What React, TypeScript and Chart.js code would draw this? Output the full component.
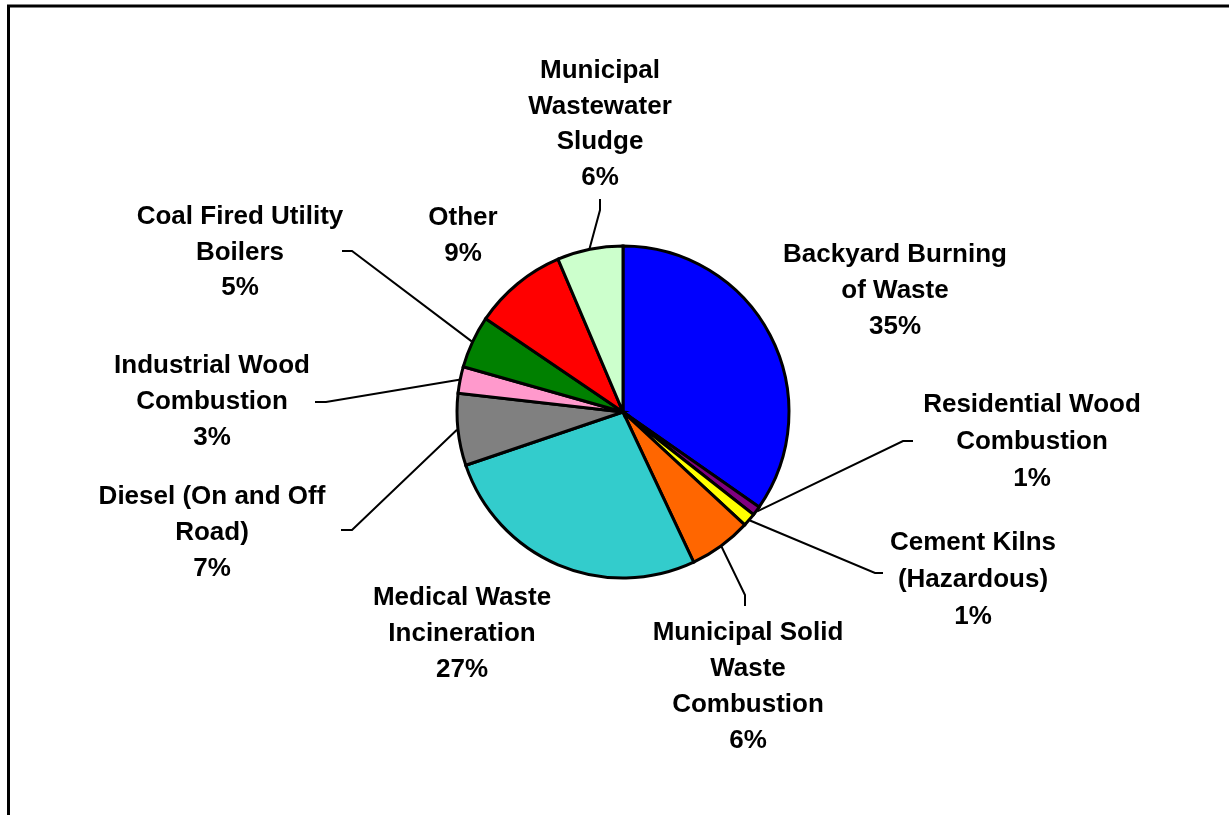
import React, { useEffect, useRef } from "react";
import { Chart, registerables } from "chart.js";

Chart.register(...registerables);

// ---- data ----
const categories = [
  "Backyard Burning of Waste",
  "Residential Wood Combustion",
  "Cement Kilns (Hazardous)",
  "Municipal Solid Waste Combustion",
  "Medical Waste Incineration",
  "Diesel (On and Off Road)",
  "Industrial Wood Combustion",
  "Coal Fired Utility Boilers",
  "Other",
  "Municipal Wastewater Sludge",
];
const shares = [34.7, 0.9, 1.3, 6.1, 26.8, 7.0, 2.6, 5.1, 9.1, 6.4];
const percentLabels = ["35%", "1%", "1%", "6%", "27%", "7%", "3%", "5%", "9%", "6%"];
const nameLines = [
  ["Backyard Burning", "of Waste"],
  ["Residential Wood", "Combustion"],
  ["Cement Kilns", "(Hazardous)"],
  ["Municipal Solid", "Waste", "Combustion"],
  ["Medical Waste", "Incineration"],
  ["Diesel (On and Off", "Road)"],
  ["Industrial Wood", "Combustion"],
  ["Coal Fired Utility", "Boilers"],
  ["Other"],
  ["Municipal", "Wastewater", "Sludge"],
];
const sliceColors = [
  "#0000FF",
  "#800080",
  "#FFFF00",
  "#FF6600",
  "#33CCCC",
  "#808080",
  "#FF99CC",
  "#008000",
  "#FF0000",
  "#CCFFCC",
];

// ---- label layout (text anchor + leader elbow/end) ----
type Pt = [number, number];
const labelLayout: { x: number; y: number; step: number; leader: Pt[] | null }[] = [
  { x: 895, y: 255, step: 36, leader: null },
  { x: 1032, y: 405, step: 37, leader: [[903, 441], [913, 441]] },
  { x: 973, y: 543, step: 37, leader: [[875, 573], [883, 573]] },
  { x: 748, y: 633, step: 36, leader: [[745, 595], [745, 606]] },
  { x: 462, y: 598, step: 36, leader: null },
  { x: 212, y: 497, step: 36, leader: [[352, 530], [341, 530]] },
  { x: 212, y: 366, step: 36, leader: [[326, 402], [315, 402]] },
  { x: 240, y: 217, step: 35.5, leader: [[352, 251], [342, 251]] },
  { x: 463, y: 218, step: 36, leader: null },
  { x: 600, y: 71, step: 35.5, leader: [[600, 210], [600, 199]] },
];

const frameAndLabels = {
  id: "frameAndLabels",
  beforeDraw(chart: any) {
    const ctx = chart.ctx;
    ctx.save();
    ctx.fillStyle = "#ffffff";
    ctx.fillRect(0, 0, chart.width, chart.height);
    ctx.strokeStyle = "#000000";
    ctx.lineWidth = 3;
    ctx.beginPath();
    ctx.moveTo(8.5, chart.height + 2);
    ctx.lineTo(8.5, 6);
    ctx.lineTo(chart.width + 2, 6);
    ctx.stroke();
    ctx.restore();
  },
  afterDatasetsDraw(chart: any) {
    const ctx = chart.ctx;
    const meta = chart.getDatasetMeta(0);
    ctx.save();
    ctx.strokeStyle = "#000000";
    ctx.lineWidth = 2;
    ctx.fillStyle = "#000000";
    ctx.font = "bold 26px 'Liberation Sans', Arial, sans-serif";
    ctx.textAlign = "center";
    ctx.textBaseline = "middle";
    meta.data.forEach((arc: any, i: number) => {
      const { x, y, startAngle, endAngle, outerRadius } = arc.getProps(
        ["x", "y", "startAngle", "endAngle", "outerRadius"],
        true
      );
      const mid = (startAngle + endAngle) / 2;
      const lay = labelLayout[i];
      if (lay.leader) {
        ctx.beginPath();
        ctx.moveTo(x + Math.cos(mid) * (outerRadius + 1), y + Math.sin(mid) * (outerRadius + 1));
        lay.leader.forEach((p) => ctx.lineTo(p[0], p[1]));
        ctx.stroke();
      }
      const lines = [...nameLines[i], percentLabels[i]];
      lines.forEach((t, k) => {
        ctx.fillText(t, lay.x, lay.y + k * lay.step);
      });
    });
    ctx.restore();
  },
};

export default function App() {
  const ref = useRef<HTMLCanvasElement | null>(null);

  useEffect(() => {
    document.body.style.margin = "0";
    document.body.style.overflow = "hidden";
    if (!ref.current) return;
    const chart = new Chart(ref.current, {
      type: "pie",
      data: {
        labels: categories,
        datasets: [
          {
            data: shares,
            backgroundColor: sliceColors,
            borderColor: "#000000",
            borderWidth: 3,
            borderJoinStyle: "miter",
          },
        ],
      },
      options: {
        responsive: false,
        animation: false,
        radius: 166,
        layout: { padding: { left: 17, right: 0, top: 9, bottom: 0 } },
        plugins: {
          legend: { display: false },
          tooltip: { enabled: false },
          title: { display: false },
        },
      } as any,
      plugins: [frameAndLabels],
    });
    return () => chart.destroy();
  }, []);

  return (
    <div style={{ width: 1229, height: 815, overflow: "hidden" }}>
      <canvas ref={ref} width={1229} height={815} style={{ display: "block" }} />
    </div>
  );
}
